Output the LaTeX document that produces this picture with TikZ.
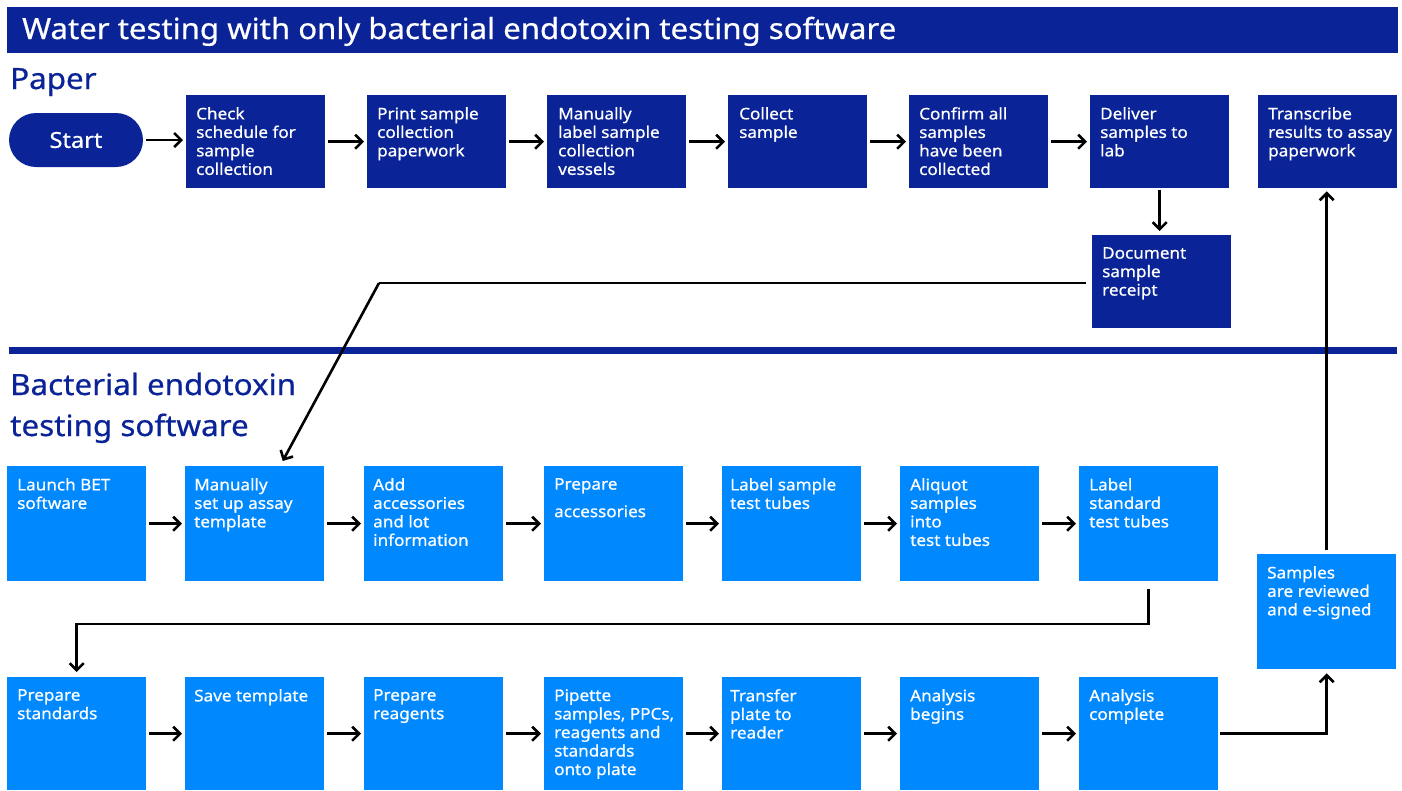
\documentclass[tikz,border=0pt]{standalone}
\usepackage{fontspec}
\setmainfont{Noto Sans}[FakeStretch=1.07,FakeBold=0.6]
\usetikzlibrary{arrows.meta,calc}
\definecolor{dkblue}{RGB}{10,35,150}
\definecolor{ltblue}{RGB}{0,137,255}
\begin{document}
\begin{tikzpicture}[x=1pt,y=-1pt,
  dbox/.style={fill=dkblue,draw=none,anchor=north west,minimum width=139pt,minimum height=93pt,inner sep=0pt},
  lbox/.style={fill=ltblue,draw=none,anchor=north west,minimum width=139pt,minimum height=115pt,inner sep=0pt},
  txt/.style={anchor=north west,inner sep=0pt,text=white,align=left,font=\fontsize{16}{18.5}\selectfont},
  hdr/.style={anchor=base west,inner sep=0pt,text=dkblue,font=\fontsize{29.3}{40}\selectfont},
  arr/.style={draw=black,line width=2.6pt,-{Straight Barb[length=7pt,width=14pt,line width=2.6pt]}}
]
\useasboundingbox (0,0) rectangle (1402,790);
\fill[white] (0,0) rectangle (1402,790);
% title
\node[fill=dkblue,anchor=north west,minimum width=1391pt,minimum height=46pt,inner sep=0pt] (title) at (7,7) {};
\node[anchor=base west,inner sep=0pt,text=white,font=\fontsize{29.1}{32}\selectfont] (titletxt) at (22,39) {Water testing with only bacterial endotoxin testing software};
% headers
\node[hdr] (paper) at (10,89) {Paper};
\node[hdr,align=left] (bet) at (10,395) {Bacterial endotoxin};
\node[hdr,align=left] (bet2) at (10,436) {testing software};
\draw[dkblue,line width=7pt] (9,350) -- (1397,350);
% start
\node[fill=dkblue,rounded corners=27pt,minimum width=134pt,minimum height=54pt,inner sep=0pt,text=white,font=\fontsize{22}{24}\selectfont] (start) at (76,140) {Start};
% top row
\node[dbox] (p1) at (186,95) {};
\node[dbox] (p2) at (367,95) {};
\node[dbox] (p3) at (547,95) {};
\node[dbox] (p4) at (728,95) {};
\node[dbox] (p5) at (909,95) {};
\node[dbox] (p6) at (1090,95) {};
\node[dbox] (p7) at (1258,95) {};
\node[dbox] (doc) at (1092,235) {};
% middle row
\node[lbox] (m1) at (7,466) {};
\node[lbox] (m2) at (185,466) {};
\node[lbox] (m3) at (364,466) {};
\node[lbox] (m4) at (544,466) {};
\node[lbox] (m5) at (722,466) {};
\node[lbox] (m6) at (900,466) {};
\node[lbox] (m7) at (1079,466) {};
% bottom row
\node[lbox,minimum height=113pt] (b1) at (7,677) {};
\node[lbox,minimum height=113pt] (b2) at (185,677) {};
\node[lbox,minimum height=113pt] (b3) at (364,677) {};
\node[lbox,minimum height=113pt] (b4) at (544,677) {};
\node[lbox,minimum height=113pt] (b5) at (722,677) {};
\node[lbox,minimum height=113pt] (b6) at (900,677) {};
\node[lbox,minimum height=113pt] (b7) at (1079,677) {};
\node[lbox] (rev) at (1257,554) {};
% texts
\node[txt] (tp1) at ($(p1.north west)+(10,12)$) {Check\\schedule for\\sample\\collection};
\node[txt] (tp2) at ($(p2.north west)+(10,12)$) {Print sample\\collection\\paperwork};
\node[txt] (tp3) at ($(p3.north west)+(11,12)$) {Manually\\label sample\\collection\\vessels};
\node[txt] (tp4) at ($(p4.north west)+(11,12)$) {Collect\\sample};
\node[txt] (tp5) at ($(p5.north west)+(10,12)$) {Confirm all\\samples\\have been\\collected};
\node[txt] (tp6) at ($(p6.north west)+(10,12)$) {Deliver\\samples to\\lab};
\node[txt] (tp7) at ($(p7.north west)+(10,12)$) {Transcribe\\results to assay\\paperwork};
\node[txt] (tdoc) at ($(doc.north west)+(10,12)$) {Document\\sample\\receipt};
\node[txt] (tm1) at ($(m1.north west)+(10,12)$) {Launch BET\\software};
\node[txt] (tm2) at ($(m2.north west)+(9,12)$) {Manually\\set up assay\\template};
\node[txt] (tm3) at ($(m3.north west)+(9,12)$) {Add\\accessories\\and lot\\information};
\node[txt] (tm4) at ($(m4.north west)+(10,12)$) {Prepare\\[9pt]accessories};
\node[txt] (tm5) at ($(m5.north west)+(8,12)$) {Label sample\\test tubes};
\node[txt] (tm6) at ($(m6.north west)+(10,12)$) {Aliquot\\samples\\into\\test tubes};
\node[txt] (tm7) at ($(m7.north west)+(10,12)$) {Label\\standard\\test tubes};
\node[txt] (tb1) at ($(b1.north west)+(10,12)$) {Prepare\\standards};
\node[txt] (tb2) at ($(b2.north west)+(9,12)$) {Save template};
\node[txt] (tb3) at ($(b3.north west)+(9,12)$) {Prepare\\reagents};
\node[txt] (tb4) at ($(b4.north west)+(10,12)$) {Pipette\\samples, PPCs,\\reagents and\\standards\\onto plate};
\node[txt] (tb5) at ($(b5.north west)+(8,12)$) {Transfer\\plate to\\reader};
\node[txt] (tb6) at ($(b6.north west)+(10,12)$) {Analysis\\begins};
\node[txt] (tb7) at ($(b7.north west)+(10,12)$) {Analysis\\complete};
\node[txt] (trev) at ($(rev.north west)+(10,12)$) {Samples\\are reviewed\\and e-signed};
% top row arrows
\draw[arr,shorten <=3pt,shorten >=3pt] (start.east) -- (start.east -| p1.west);
\foreach \a/\b in {p1/p2,p2/p3,p3/p4,p4/p5,p5/p6}{
  \draw[arr,shorten <=3pt,shorten >=3pt] (\a.east) -- (\b.west);
}
\draw[arr,shorten <=2pt,shorten >=4pt] (p6.south) -- (p6.south |- doc.north);
% doc to manually set up
\coordinate (c1) at (379,283);
\coordinate (c1end) at ($(m2.north)+(28,-5)$);
\draw[line width=2.6pt,shorten <=6pt] (doc.west |- c1) -- (c1);
\draw[arr] (c1) -- (c1end);
% middle row arrows
\foreach \a/\b in {m1/m2,m2/m3,m3/m4,m4/m5,m5/m6,m6/m7}{
  \draw[arr,shorten <=3pt,shorten >=3pt] (\a.east) -- (\b.west);
}
% wrap
\coordinate (c2) at (600,624);
\draw[arr,shorten <=8pt,shorten >=5pt] (m7.south) |- (c2) -| (b1.north);
% bottom row arrows
\foreach \a/\b in {b1/b2,b2/b3,b3/b4,b4/b5,b5/b6,b6/b7}{
  \draw[arr,shorten <=3pt,shorten >=3pt] (\a.east) -- (\b.west);
}
\draw[arr,shorten <=2pt,shorten >=4pt] (b7.east) -| (rev.south);
\draw[arr,shorten <=4pt,shorten >=3pt] (rev.north) -- (rev.north |- p7.south);
\end{tikzpicture}
\end{document}
